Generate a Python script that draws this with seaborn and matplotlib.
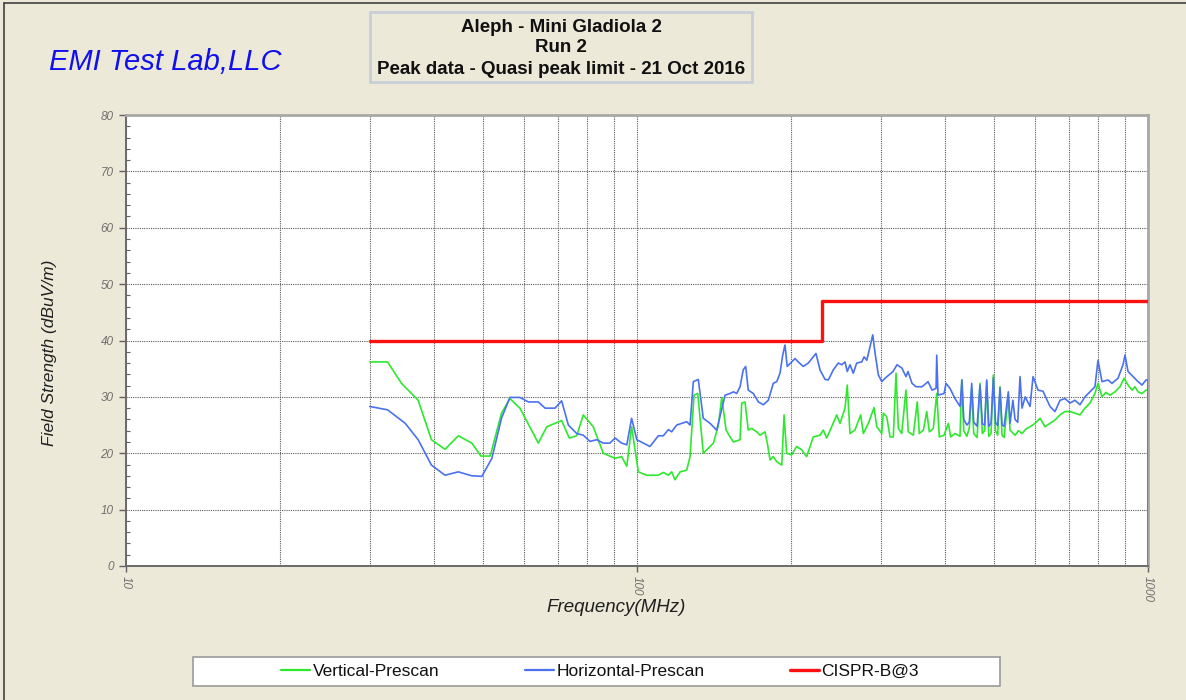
import numpy as np
import pandas as pd
import matplotlib
matplotlib.use("Agg")
import matplotlib.pyplot as plt
from matplotlib.patches import Rectangle
from matplotlib.lines import Line2D
from matplotlib.ticker import FixedLocator, NullFormatter, MultipleLocator
import seaborn as sns

# ---------------- data ----------------
vert_freq = [30.0, 32.5, 34.6, 37.3, 39.6, 42.1, 44.7, 47.5, 49.5, 51.6, 54.3, 56.4, 59.0, 64.1,
             66.6, 71.2, 73.7, 76.2, 78.5, 82.1, 85.9, 90.6, 93.3, 95.5, 97.6, 100.6, 104.4, 110.1,
             112.6, 115.2, 116.9, 118.7, 121.4, 125.1, 127.0, 129.3, 131.5, 134.8, 141.1, 144.3,
             146.5, 149.4, 152.1, 154.4, 159.1, 160.3, 162.7, 165.1, 167.7, 171.5, 174.1, 178.0,
             179.9, 182.1, 184.8, 187.7, 192.0, 194.0, 196.3, 200.7, 205.3, 210.0, 214.8, 221.3,
             228.1, 231.5, 235.1, 240.4, 245.9, 249.6, 255.3, 257.9, 261.1, 267.0, 274.0, 277.3,
             283.6, 291.0, 294.6, 301.3, 303.4, 308.1, 312.7, 317.4, 321.3, 324.7, 329.6, 336.0,
             339.5, 347.3, 353.6, 356.8, 363.4, 369.0, 373.3, 380.1, 386.0, 390.5, 398.9, 406.7,
             411.1, 419.1, 428.7, 432.0, 436.0, 442.0, 447.0, 451.9, 456.0, 463.0, 469.1, 474.0,
             479.0, 483.5, 488.0, 493.0, 498.2, 503.0, 508.0, 513.4, 518.0, 523.0, 532.9, 537.0,
             549.3, 558.0, 566.9, 577.0, 587.7, 601.1, 614.7, 628.7, 643.0, 657.7, 672.7, 688.0,
             703.7, 719.6, 736.0, 752.7, 769.9, 787.4, 798.2, 812.8, 827.0, 842.6, 861.8, 881.5,
             897.5, 914.0, 930.6, 943.0, 956.1, 973.4, 991.1, 1000.0, 1000.0]
vert_level = [36.2, 36.2, 32.4, 29.4, 22.4, 20.7, 23.1, 21.8, 19.5, 19.5, 27.1, 29.7, 28.0, 21.8,
              24.7, 25.8, 22.7, 23.1, 26.8, 24.7, 20.0, 19.1, 19.4, 17.7, 24.7, 16.7, 16.1, 16.1,
              16.6, 16.1, 16.7, 15.3, 16.7, 17.0, 19.4, 30.3, 30.6, 20.0, 21.8, 25.0,
              29.9, 24.1, 22.9, 22.0, 22.4, 28.9, 29.1, 24.1, 24.4, 23.8, 23.2, 23.8,
              21.8, 18.8, 19.4, 18.5, 17.9, 26.8, 20.0, 19.7, 21.2, 20.6, 19.4, 22.9,
              23.2, 24.1, 22.7, 24.7, 26.8, 25.3, 28.0, 32.1, 23.5, 24.1, 26.8, 23.5,
              25.3, 28.1, 24.7, 23.5, 27.1, 26.5, 22.9, 22.9, 34.2, 24.4, 23.5, 31.2,
              23.8, 23.2, 29.1, 23.5, 24.1, 27.4, 23.8, 24.4, 30.6, 22.9, 23.2, 25.3,
              22.9, 23.5, 23.0, 33.0, 24.0, 23.0, 24.5, 31.5, 23.5, 22.8, 32.4, 23.5,
              24.0, 32.7, 23.0, 23.5, 33.9, 24.0, 23.2, 31.8, 23.2, 22.8, 30.3, 24.1,
              23.2, 24.0, 23.5, 24.3, 24.7, 25.3, 26.2, 24.7, 25.3, 25.9, 26.8, 27.4,
              27.4, 27.1, 26.8, 28.0, 28.9, 30.6, 32.4, 30.0, 30.8, 30.3, 30.9, 31.8,
              33.3, 32.1, 31.2, 31.8, 30.9, 30.6, 31.2, 31.2, 0.0]

horz_freq = [30.0, 32.5, 35.2, 37.3, 39.6, 42.1, 44.7, 47.5, 49.7, 52.0, 54.3, 56.4, 59.0, 61.3,
             64.1, 66.1, 69.1, 71.2, 73.4, 76.2, 78.5, 80.9, 83.4, 85.9, 88.5, 90.6, 93.3, 95.5,
             97.6, 99.9, 102.9, 106.0, 110.1, 112.6, 115.2, 116.9, 119.6, 122.3, 125.1, 127.0,
             128.9, 131.8, 134.8, 139.0, 143.2, 148.7, 152.1, 154.4, 156.7, 159.1, 161.4, 163.2,
             165.1, 168.9, 172.8, 176.7, 180.7, 184.8, 187.7, 190.5, 192.8, 194.8, 196.8, 200.7,
             203.8, 206.8, 211.5, 216.4, 221.3, 224.0, 228.1, 233.3, 236.8, 242.2, 247.7, 251.5,
             255.3, 257.9, 261.1, 265.0, 269.1, 275.3, 278.2, 281.6, 285.8, 289.3, 292.4, 296.7,
             301.3, 305.7, 317.0, 322.7, 330.0, 336.0, 339.1, 345.3, 351.6, 361.2, 371.2, 377.9,
             384.8, 386.0, 388.2, 398.9, 402.5, 409.8, 419.1, 428.7, 432.5, 436.0, 442.0, 447.0,
             451.9, 456.0, 463.0, 469.1, 474.0, 479.0, 483.5, 488.0, 493.0, 498.2, 503.0, 508.0,
             513.4, 518.0, 523.0, 532.9, 537.0, 544.0, 549.3, 556.0, 561.8, 566.9, 575.0, 587.7,
             595.7, 609.2, 623.1, 643.0, 657.7, 672.7, 688.0, 703.7, 719.6, 736.0, 752.7, 769.9,
             787.4, 798.2, 812.8, 835.0, 850.2, 873.6, 893.5, 901.6, 914.0, 934.8, 956.1, 973.4,
             991.1, 1000.0, 1000.0]
horz_level = [28.3, 27.7, 25.3, 22.4, 17.9, 16.1, 16.7, 16.0, 15.9, 19.1, 26.2, 29.9, 29.9, 29.1,
              29.1, 28.0, 28.0, 29.3, 25.0, 23.5, 23.2, 22.1, 22.4, 21.8, 21.8, 22.7, 21.8, 21.5,
              26.2, 22.4, 21.8, 21.2, 23.1, 23.1, 24.2, 23.8, 25.0, 25.3, 25.6, 25.0,
              32.7, 33.1, 26.2, 25.3, 24.1, 30.3, 30.6, 30.9, 30.6, 31.8, 34.8, 35.4,
              31.2, 30.6, 29.1, 28.6, 29.4, 32.4, 32.7, 34.2, 37.4, 39.2, 35.4, 36.2,
              36.8, 36.2, 35.4, 36.0, 37.1, 37.7, 34.8, 33.1, 33.0, 34.8, 36.0, 35.7,
              36.2, 34.5, 35.7, 34.2, 36.0, 36.2, 37.1, 36.5, 38.9, 41.0, 37.7, 33.9,
              32.7, 33.3, 34.5, 35.7, 35.1, 33.6, 34.5, 32.4, 31.8, 31.8, 32.7, 31.2,
              31.5, 37.4, 30.3, 30.6, 32.4, 31.5, 29.7, 28.3, 33.0, 26.0, 25.0, 25.5,
              32.4, 25.5, 24.8, 32.1, 25.2, 25.0, 33.0, 24.8, 25.3, 33.4, 25.5, 24.9,
              31.6, 25.0, 24.8, 30.9, 25.3, 29.4, 26.0, 25.5, 33.6, 28.0, 30.0, 28.3,
              33.6, 31.2, 31.0, 28.3, 27.4, 29.4, 29.7, 28.9, 29.4, 28.6, 30.0, 30.9,
              31.8, 36.5, 32.7, 33.0, 32.4, 33.3, 35.7, 37.4, 34.5, 33.6, 32.7, 32.1,
              33.0, 33.0, 0.0]

limit_freq = [30.0, 230.0, 230.0, 1000.0]
limit_level = [40.0, 40.0, 47.0, 47.0]

series_names = ["Vertical-Prescan", "Horizontal-Prescan", "CISPR-B@3"]
series_colors = ["#2EE82E", "#4A72F0", "#FF1010"]

title_lines = ["Aleph - Mini Gladiola 2", "Run 2", "Peak data - Quasi peak limit - 21 Oct 2016"]
x_tick_values = [10, 100, 1000]
x_tick_labels = ["10", "100", "1000"]
y_tick_values = [0, 10, 20, 30, 40, 50, 60, 70, 80]

df_v = pd.DataFrame({"freq": vert_freq, "level": vert_level})
df_h = pd.DataFrame({"freq": horz_freq, "level": horz_level})
df_l = pd.DataFrame({"freq": limit_freq, "level": limit_level})

# ---------------- figure ----------------
sns.set_theme(style="white")
plt.rcParams["font.family"] = ["Liberation Sans", "DejaVu Sans"]

W, H = 1186, 700
BG = "#ECE9D8"
fig = plt.figure(figsize=(W / 100, H / 100), dpi=100, facecolor=BG)

def fx(px):
    return px / W

def fy(py):
    return 1 - py / H

ax = fig.add_axes([fx(126), fy(566), fx(1148) - fx(126), fy(115) - fy(566)])
ax.set_facecolor("white")

sns.lineplot(data=df_v, x="freq", y="level", ax=ax, color=series_colors[0], lw=1.2,
             sort=False, estimator=None, zorder=3)
sns.lineplot(data=df_h, x="freq", y="level", ax=ax, color=series_colors[1], lw=1.2,
             sort=False, estimator=None, zorder=4)
sns.lineplot(data=df_l, x="freq", y="level", ax=ax, color=series_colors[2], lw=2.4,
             sort=False, estimator=None, zorder=5)

ax.set_xscale("log")
ax.set_xlim(10, 1000)
ax.set_ylim(0, 80)

ax.xaxis.set_major_locator(FixedLocator(x_tick_values))
ax.xaxis.set_minor_locator(FixedLocator([m * d for d in (10, 100) for m in range(2, 10)]))
ax.xaxis.set_minor_formatter(NullFormatter())
ax.set_xticklabels(x_tick_labels, rotation=-90, fontsize=8.5, style="italic", color="#707070")
ax.yaxis.set_major_locator(FixedLocator(y_tick_values))
ax.yaxis.set_minor_locator(MultipleLocator(2))
ax.set_yticks(y_tick_values)
ax.set_yticklabels([str(v) for v in y_tick_values], fontsize=8.5, style="italic", color="#707070")

ax.tick_params(axis="y", which="major", direction="out", length=5, width=1, color="#606060", pad=4, left=True)
ax.tick_params(axis="y", which="minor", direction="in", length=3, width=0.8, color="#606060", left=True)
ax.tick_params(axis="x", which="major", direction="out", length=4, width=1, color="#606060", pad=3, bottom=True)
ax.tick_params(axis="x", which="minor", length=0)

grid_kw = dict(color="#5a5a5a", linestyle=(0, (1, 1)), linewidth=0.8)
ax.grid(True, axis="x", which="both", **grid_kw)
ax.grid(True, axis="y", which="major", **grid_kw)
ax.set_axisbelow(True)

for side in ("left", "bottom"):
    ax.spines[side].set_color("#6a6a6a")
    ax.spines[side].set_linewidth(1.4)
for side in ("top", "right"):
    ax.spines[side].set_color("#a8a8a8")
    ax.spines[side].set_linewidth(2.0)

ax.set_xlabel("Frequency(MHz)", fontsize=13.5, style="italic", color="#202020")
ax.set_ylabel("Field Strength (dBuV/m)", fontsize=12.5, style="italic", color="#202020")
ax.xaxis.set_label_coords((616 - 126) / 1022, -(608 - 566) / 451)
ax.yaxis.set_label_coords(-(126 - 50) / 1022, (566 - 353) / 451)
ax.xaxis.label.set_va("center")
ax.yaxis.label.set_va("center")

# window border
fig.add_artist(Line2D([fx(4), fx(1186)], [fy(3), fy(3)], color="#404040", lw=1.2))
fig.add_artist(Line2D([fx(4), fx(4)], [fy(3), fy(700)], color="#404040", lw=1.2))

# title box
fig.add_artist(Rectangle((fx(370), fy(82)), fx(752) - fx(370), fy(12) - fy(82),
                         facecolor=BG, edgecolor="#C9CDD8", lw=2, transform=fig.transFigure))
for line, py in zip(title_lines, [27, 47, 69]):
    fig.text(fx(561), fy(py), line, ha="center", va="center", fontsize=13.5,
             fontweight="bold", color="#111111")

# logo
fig.text(fx(165), fy(62), "EMI Test Lab,LLC", ha="center", va="center", fontsize=21,
         style="italic", color="#1010EE")

# legend box
fig.add_artist(Rectangle((fx(193), fy(686)), fx(1000) - fx(193), fy(657) - fy(686),
                         facecolor="white", edgecolor="#9a9a9a", lw=1.2, transform=fig.transFigure))
handles = [Line2D([], [], color=c, lw=(2.4 if i == 2 else 1.6)) for i, c in enumerate(series_colors)]
fig.legend(handles, series_names, loc="center", bbox_to_anchor=(fx(600), fy(671.5)),
           ncol=3, frameon=False, fontsize=12.5, handlelength=1.67, handletextpad=0.17,
           columnspacing=4.9, borderpad=0, labelcolor="#111111")

fig.savefig("out.png", dpi=100, facecolor=BG)
